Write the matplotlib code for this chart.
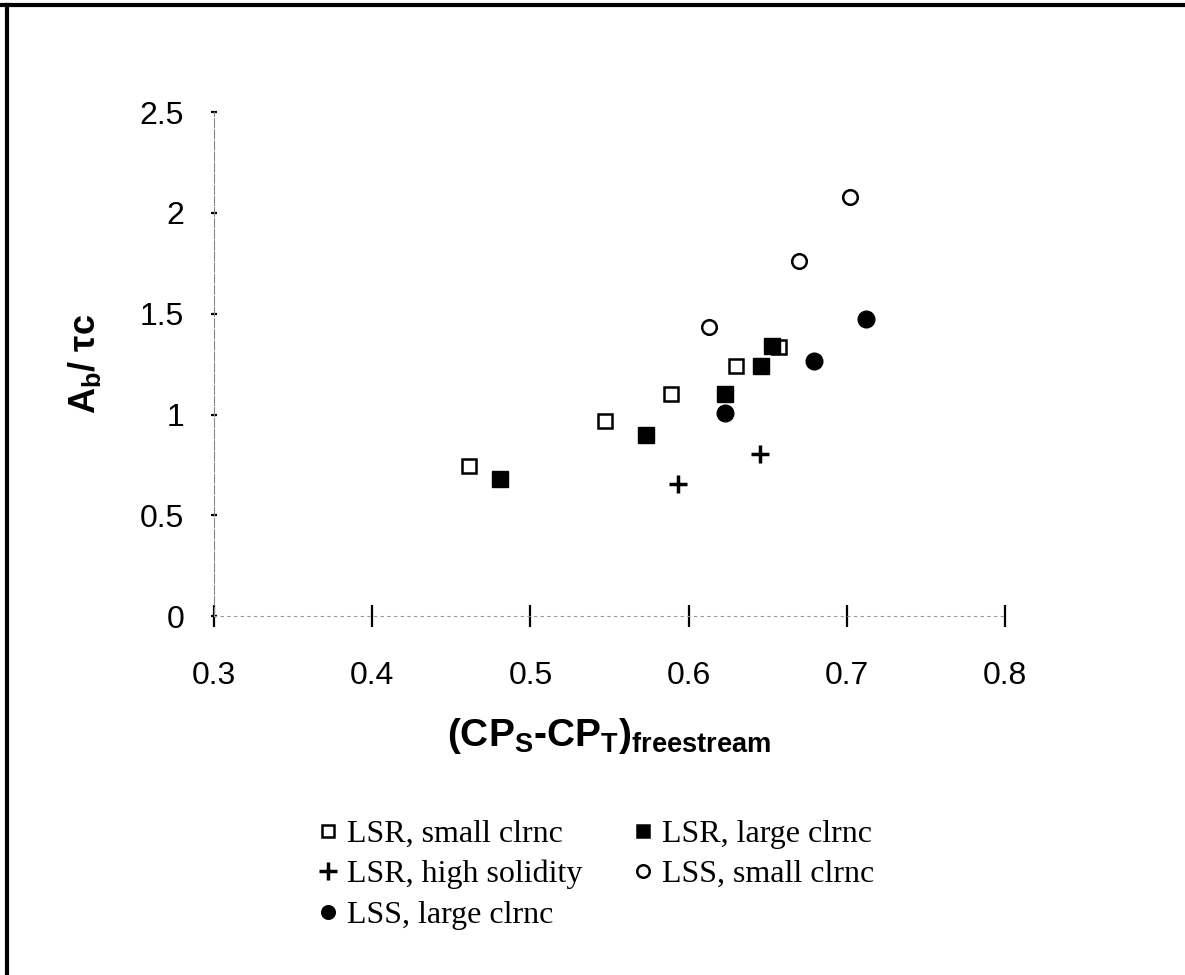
import matplotlib
matplotlib.use("Agg")
import matplotlib.pyplot as plt
from matplotlib.lines import Line2D

plt.rcParams['font.family'] = ['Liberation Sans', 'DejaVu Sans']
plt.rcParams['mathtext.fontset'] = 'custom'
plt.rcParams['mathtext.rm'] = 'Liberation Sans'
plt.rcParams['mathtext.bf'] = 'Liberation Sans:bold'
plt.rcParams['mathtext.it'] = 'Liberation Sans:italic'

# data
lsr_small_x = [0.461, 0.547, 0.589, 0.630, 0.657]
lsr_small_y = [0.745, 0.967, 1.104, 1.241, 1.336]
lsr_large_x = [0.481, 0.573, 0.623, 0.646, 0.653]
lsr_large_y = [0.679, 0.897, 1.104, 1.241, 1.339]
lsr_solid_x = [0.593, 0.645]
lsr_solid_y = [0.657, 0.806]
lss_small_x = [0.613, 0.670, 0.702]
lss_small_y = [1.432, 1.760, 2.077]
lss_large_x = [0.623, 0.679, 0.712]
lss_large_y = [1.008, 1.268, 1.473]

x_ticks = [0.3, 0.4, 0.5, 0.6, 0.7, 0.8]
y_ticks = [0, 0.5, 1, 1.5, 2, 2.5]
y_tick_labels = ['0', '0.5', '1', '1.5', '2', '2.5']

fig = plt.figure(figsize=(11.85, 9.75), dpi=100)
ax = fig.add_axes([0.1806, 0.368, 0.6675, 0.517])

ax.plot(lsr_small_x, lsr_small_y, 's', ms=10.5, mfc='white', mec='black', mew=1.8,
        linestyle='none', label='LSR, small clrnc')
ax.plot(lsr_large_x, lsr_large_y, 's', ms=12, mfc='black', mec='black',
        linestyle='none', label='LSR, large clrnc')
ax.plot(lsr_solid_x, lsr_solid_y, '+', ms=13, mec='black', mew=2.5,
        linestyle='none', label='LSR, high solidity')
ax.plot(lss_small_x, lss_small_y, 'o', ms=10.5, mfc='white', mec='black', mew=1.8,
        linestyle='none', label='LSS, small clrnc')
ax.plot(lss_large_x, lss_large_y, 'o', ms=12, mfc='black', mec='black',
        linestyle='none', label='LSS, large clrnc')

ax.set_xlim(0.3, 0.8)
ax.set_ylim(0, 2.5)
ax.set_xticks(x_ticks)
ax.set_xticklabels([f'{v:.1f}' for v in x_ticks])
ax.set_yticks(y_ticks)
ax.set_yticklabels(y_tick_labels)

for s in ['top', 'right']:
    ax.spines[s].set_visible(False)
ax.spines['left'].set_color('#888888')
ax.spines['left'].set_linewidth(0.8)
ax.spines['left'].set_linestyle((0, (8, 2)))
ax.spines['bottom'].set_color('#999999')
ax.spines['bottom'].set_linewidth(0.8)
ax.spines['bottom'].set_linestyle((0, (2, 4)))

ax.tick_params(axis='x', direction='inout', length=16, width=1.6, color='black',
               labelsize=23, pad=24)
ax.tick_params(axis='y', direction='inout', length=5, width=1.6, color='black',
               labelsize=23, pad=19)

ax.set_xlabel(r'$\mathbf{(CP_S}$-$\mathbf{CP_T)_{freestream}}$', fontsize=28,
              fontweight='bold', labelpad=18)
ax.set_ylabel(r'$\mathbf{A_b/}$ $\mathbf{\tau c}$', fontsize=26)
ax.yaxis.set_label_coords(-0.14, 0.5)

h, l = ax.get_legend_handles_labels()
order = [0, 2, 4, 1, 3]
leg_h = []
for i in order:
    ln = h[i]
    leg_h.append(Line2D([], [], marker=ln.get_marker(), linestyle='none',
                        mfc=ln.get_markerfacecolor(), mec='black',
                        mew=1.8 if ln.get_marker() != '+' else 2.5,
                        ms=9 if ln.get_marker() != '+' else 13))
fig.legend(leg_h, [l[i] for i in order], ncol=2, frameon=False,
           loc='upper center', bbox_to_anchor=(0.503, 0.176),
           prop={'family': 'Liberation Serif', 'size': 23},
           handlelength=0.6, handletextpad=0.3, columnspacing=1.6,
           labelspacing=0.35, borderpad=0)

# outer frame (top and left edges of the page)
fig.add_artist(Line2D([0, 1], [0.995, 0.995], color='black', lw=3,
                      transform=fig.transFigure))
fig.add_artist(Line2D([0.006, 0.006], [0, 0.995], color='black', lw=3,
                      transform=fig.transFigure))

fig.savefig('out.png', dpi=100)
